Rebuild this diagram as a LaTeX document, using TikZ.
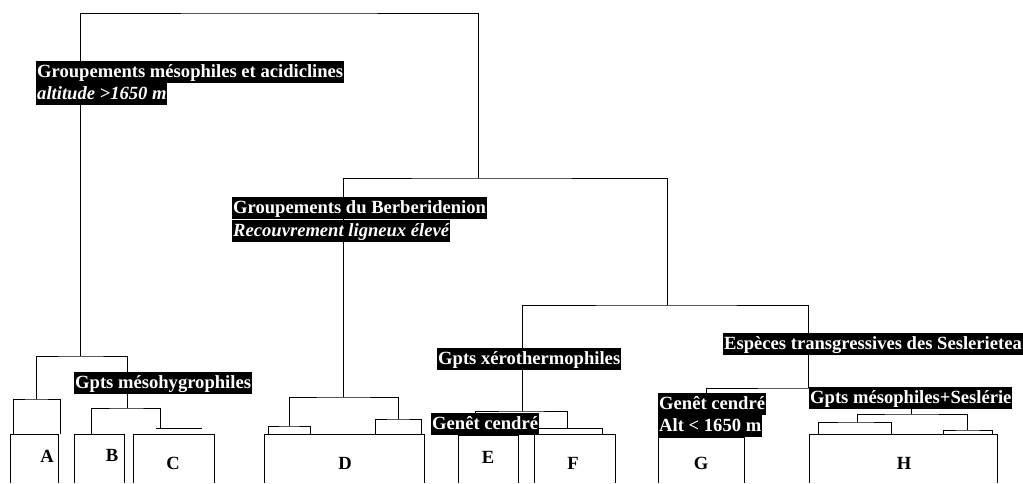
\documentclass[tikz,border=0pt]{standalone}
\usepackage{fontspec}
\setmainfont{Liberation Serif}
\usepackage{tikz}

\begin{document}
\begin{tikzpicture}[x=1pt,y=-1pt,line width=0.8pt,
  tag/.style={fill=black,text=white,anchor=north west,inner xsep=0.8pt,inner ysep=0pt,
    text height=16pt,text depth=6pt,font=\fontsize{18.6}{22}\selectfont\bfseries},
  leaf/.style={font=\fontsize{18.6}{22}\selectfont\bfseries}]
\useasboundingbox (0,0) rectangle (1023,483);
% junctions of the tree
\coordinate (top) at (279,13);
\coordinate (jabc) at (80,356);
\coordinate (jberb) at (478,178);
\coordinate (jd) at (343,397);
\coordinate (jefgh) at (667,305);
\coordinate (jef) at (522,411);
\coordinate (jgh) at (808,388);
\coordinate (ja) at (36,399);
\coordinate (jbc) at (127,408);
\coordinate (jh) at (911,414);
\coordinate (jh1) at (857,422);
\coordinate (jh2) at (967,430);
% branches
\draw (jabc) |- (top) -| (jberb);
\draw (jd) |- (jberb) -| (jefgh);
\draw (jef) |- (jefgh) -| (jgh);
\draw (ja) |- (jabc) -| (jbc);
\draw (13,434) |- (ja) -| (60,434);
\draw (91,434) |- (jbc) -| (160,428);
\draw (156,428) -- (202,428);
\draw (268,434) |- (289,426) -| (310,434);
\draw (289,426) |- (jd) -| (398,419);
\draw (375,434) |- (398,419) -| (421,434);
\draw (475,434) |- (jef) -| (567,428);
\draw (537,428) -| (602,434);
\draw (706,437) |- (jgh) -| (jh);
\draw (jh1) |- (jh) -| (jh2);
\draw (818,434) |- (jh1) -| (891,434);
\draw (943,434) |- (jh2) -| (992,434);
% groups
\foreach \l/\r/\t in {10/58/434,74/124/434,133/214/434,264/424/434,
  458/518/435,534/615/434,658/744/437,809/997/434}
  \draw (\l,483) |- (\r,\t) -- (\r,483);
\node[leaf] (A) at (47,456) {A};
\node[leaf] (B) at (112,455) {B};
\node[leaf] (C) at (173,463) {C};
\node[leaf] (D) at (345,463) {D};
\node[leaf] (E) at (488,457) {E};
\node[leaf] (F) at (573,463) {F};
\node[leaf] (G) at (701,463) {G};
\node[leaf] (H) at (904,463) {H};
% labels
\node[tag] (acid) at (36,61) {Groupements mésophiles et acidiclines};
\node[tag] (acidalt) at (36,83) {\itshape altitude >1650 m};
\node[tag] (berb) at (232,197) {Groupements du Berberidenion};
\node[tag] (berbrec) at (232,220) {\itshape Recouvrement ligneux élevé};
\node[tag] (hygro) at (74,372) {Gpts mésohygrophiles};
\node[tag] (xero) at (437,348) {Gpts xérothermophiles};
\node[tag] (genetE) at (431,413) {Genêt cendré};
\node[tag] (sesl) at (723,333) {Espèces transgressives des Seslerietea};
\node[tag] (genetG) at (658,393) {Genêt cendré};
\node[tag] (altG) at (658,415) {Alt < 1650 m};
\node[tag] (meso) at (809,387) {Gpts mésophiles+Seslérie};
\end{tikzpicture}
\end{document}
